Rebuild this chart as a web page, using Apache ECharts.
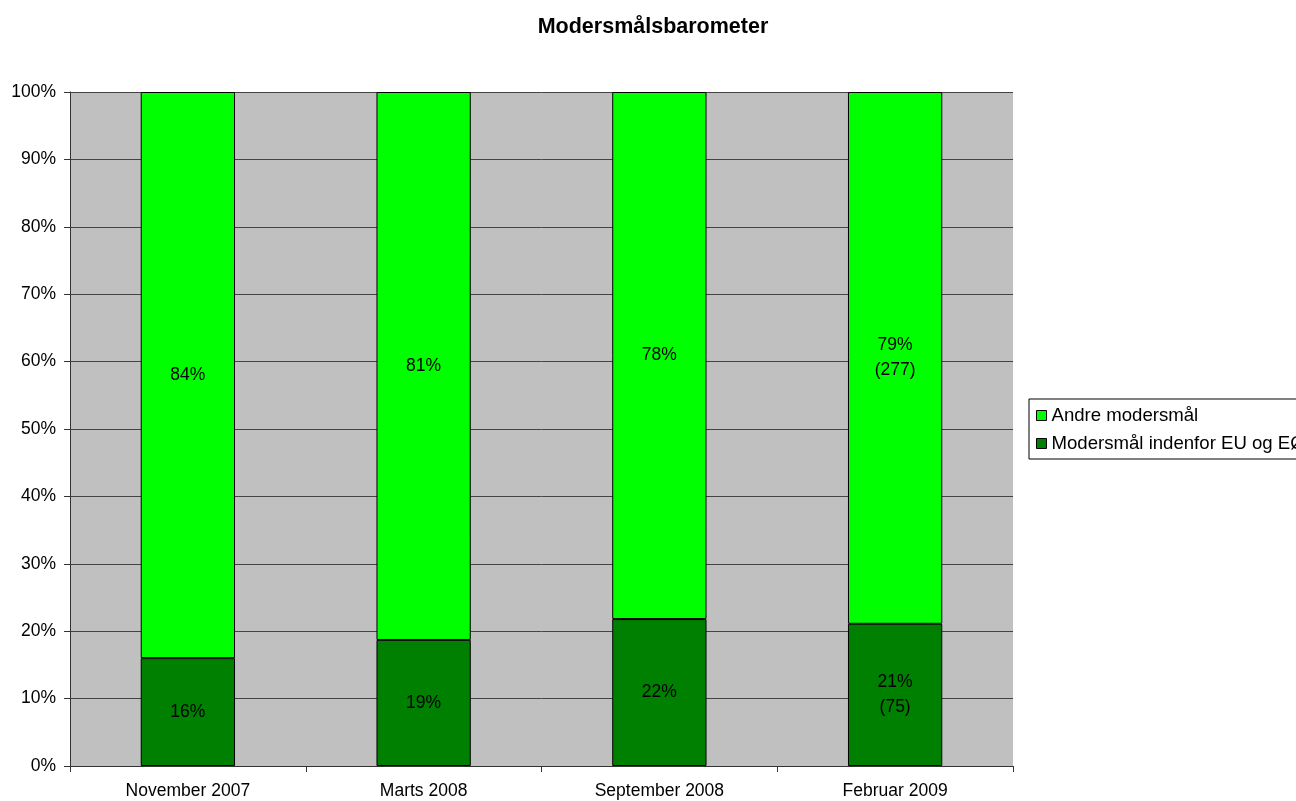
<!DOCTYPE html>
<html><head><meta charset="utf-8">
<script src="https://cdn.jsdelivr.net/npm/echarts@6/dist/echarts.min.js"></script>
<style>html,body{margin:0;padding:0;background:#fff}#c{width:1296px;height:801px}</style>
</head><body><div id="c"></div>
<script>
const categories = ['November 2007', 'Marts 2008', 'September 2008', 'Februar 2009'];
const seriesNames = ['Andre modersmål', 'Modersmål indenfor EU og EØS'];
const euValues = [16.0, 18.7, 21.8, 21.1];
const otherValues = [84.0, 81.3, 78.2, 78.9];
const euLabels = ['16%', '19%', '22%', '21%\n(75)'];
const otherLabels = ['84%', '81%', '78%', '79%\n(277)'];
const yTicks = [0, 10, 20, 30, 40, 50, 60, 70, 80, 90, 100];

const font = 'Liberation Sans, Arial, sans-serif';
const fs = 17.5;
const chart = echarts.init(document.getElementById('c'));
chart.setOption({
  animation: false,
  backgroundColor: '#fff',
  title: {
    text: 'Modersmålsbarometer', left: 648, top: 11, textAlign: 'center',
    textStyle: {fontFamily: font, fontSize: 21.5, fontWeight: 'bold', color: '#000'}
  },
  legend: {
    orient: 'vertical', left: 1029, top: 399,
    data: seriesNames,
    icon: 'rect',
    itemWidth: 10, itemHeight: 10, itemGap: 9,
    padding: [7, 7, 6, 7],
    borderColor: '#000', borderWidth: 1,
    textStyle: {fontFamily: font, fontSize: 18.6, color: '#000', padding: [0, 0, 0, 0]},
    itemStyle: {borderColor: '#000', borderWidth: 1}
  },
  grid: {left: 70, right: 283, top: 92, bottom: 35, show: true, backgroundColor: '#c0c0c0', borderWidth: 0},
  xAxis: {
    type: 'category', data: categories,
    axisLine: {lineStyle: {color: '#333', width: 1}},
    axisTick: {show: true, length: 6, lineStyle: {color: '#333'}},
    axisLabel: {fontFamily: font, fontSize: fs, color: '#000', margin: 16}
  },
  yAxis: {
    type: 'value', min: 0, max: 100, interval: 10,
    axisLine: {show: true, lineStyle: {color: '#333', width: 1}},
    axisTick: {show: true, length: 6, lineStyle: {color: '#333'}},
    splitLine: {lineStyle: {color: '#444', width: 1}},
    axisLabel: {
      fontFamily: font, fontSize: fs, color: '#000', margin: 14,
      formatter: v => yTicks.includes(v) ? v + '%' : ''
    }
  },
  series: [
    {
      name: seriesNames[1], type: 'bar', stack: 's', barWidth: '40%',
      data: euValues,
      itemStyle: {color: '#008000', borderColor: '#000', borderWidth: 1},
      label: {show: true, position: 'inside', fontFamily: font, fontSize: fs, color: '#000', lineHeight: 25,
        formatter: p => euLabels[p.dataIndex]}
    },
    {
      name: seriesNames[0], type: 'bar', stack: 's', barWidth: '40%',
      data: otherValues,
      itemStyle: {color: '#00ff00', borderColor: '#000', borderWidth: 1},
      label: {show: true, position: 'inside', fontFamily: font, fontSize: fs, color: '#000', lineHeight: 25,
        formatter: p => otherLabels[p.dataIndex]}
    }
  ]
});
</script></body></html>
